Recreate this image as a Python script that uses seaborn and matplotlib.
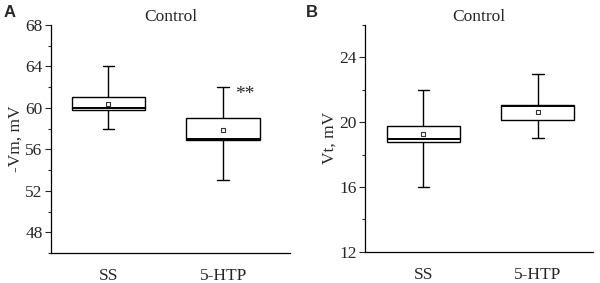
import matplotlib
matplotlib.use("Agg")
import matplotlib.pyplot as plt
from matplotlib.ticker import MultipleLocator
import pandas as pd
import seaborn as sns

groups = ["SS", "5-HTP"]

# panel A: -Vm, mV
a_min = [58.0, 53.0]
a_q1 = [59.8, 56.9]
a_med = [60.0, 57.0]
a_q3 = [61.0, 59.0]
a_max = [64.0, 62.0]
a_mean = [60.4, 57.9]

# panel B: Vt, mV
b_min = [16.0, 19.0]
b_q1 = [18.75, 20.15]
b_med = [18.95, 21.0]
b_q3 = [19.75, 21.07]
b_max = [22.0, 23.0]
b_mean = [19.25, 20.6]


def five_point(mins, q1s, meds, q3s, maxs):
    rows = []
    for g, lo, a, m, b, hi in zip(groups, mins, q1s, meds, q3s, maxs):
        for v in (lo, a, m, b, hi):
            rows.append({"group": g, "value": v})
    return pd.DataFrame(rows)


sns.set_theme(style="ticks")
plt.rcParams["font.family"] = ["Liberation Serif", "DejaVu Serif"]

fig = plt.figure(figsize=(6, 2.83), dpi=100)
ax_a = fig.add_axes([0.085, 0.106, 0.398, 0.806])
ax_b = fig.add_axes([0.608, 0.11, 0.38, 0.802])

panels = [
    (ax_a, five_point(a_min, a_q1, a_med, a_q3, a_max), a_mean, "-Vm, mV", (46, 68), 4, (-0.5, 1.58)),
    (ax_b, five_point(b_min, b_q1, b_med, b_q3, b_max), b_mean, "Vt, mV", (12, 26), 4, (-0.51, 1.48)),
]

for ax, df, means, ylabel, ylim, step, xlim in panels:
    sns.boxplot(
        data=df, x="group", y="value", ax=ax,
        whis=(0, 100), width=0.64, fliersize=0,
        color="white", linecolor="black", linewidth=1.0,
        medianprops=dict(color="black", linewidth=1.4),
        capwidths=0.1,
    )
    sns.scatterplot(
        x=groups, y=means, ax=ax, marker="s", s=9,
        facecolor="white", edgecolor="#333333", linewidth=0.8, zorder=5,
    )
    ax.set_ylim(*ylim)
    ax.set_xlim(*xlim)
    ax.yaxis.set_major_locator(MultipleLocator(step))
    ax.yaxis.set_minor_locator(MultipleLocator(step / 2))
    ax.tick_params(axis="y", which="major", length=4, width=0.8, labelsize=12.5, pad=2)
    ax.tick_params(axis="y", which="minor", length=2, width=0.8)
    ax.tick_params(axis="x", length=0, labelsize=12.5, pad=11)
    ax.set_xlabel("")
    ax.set_ylabel(ylabel, fontsize=12.5, labelpad=1)
    ax.set_title("Control", fontsize=12.5, pad=3)
    sns.despine(ax=ax)
    for sp in ax.spines.values():
        sp.set_linewidth(0.9)
        sp.set_color("black")

ax_a.set_yticks([48, 52, 56, 60, 64, 68])
ax_b.set_yticks([12, 16, 20, 24])
ax_a.text(1.19, 61.3, "**", fontsize=14, ha="center", va="center")

fig.text(0.006, 0.955, "A", fontsize=12, fontweight="bold", family="Liberation Sans", va="center")
fig.text(0.51, 0.955, "B", fontsize=12, fontweight="bold", family="Liberation Sans", va="center")

fig.savefig("out.png", dpi=100)
